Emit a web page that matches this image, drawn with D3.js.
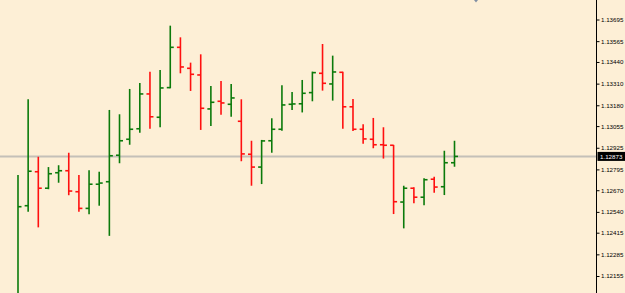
<!DOCTYPE html>
<html>
<head>
<meta charset="utf-8">
<script src="https://cdn.jsdelivr.net/npm/d3@7"></script>
<style>
html,body{margin:0;padding:0;background:#fdefd6;}
svg{display:block;}
</style>
</head>
<body>
<svg id="chart" width="625" height="293"></svg>
<script>
// OHLC data (oldest to newest)
const opens  = [1.12020,1.12577,1.12781,1.12682,1.12775,1.12787,1.12661,1.12561,1.12706,1.12721,
                1.12880,1.12976,1.13039,1.13248,1.13108,1.13286,1.13528,1.13402,1.13362,1.13158,
                1.13204,1.13186,1.13084,1.12886,1.12809,1.12967,1.13036,1.13186,1.13189,1.13256,
                1.13372,1.13308,1.13378,1.13171,1.13036,1.12976,1.12943,1.12940,1.12599,1.12682,
                1.12628,1.12736,1.12691,1.12835];
const highs  = [1.12761,1.13216,1.12871,1.12809,1.12820,1.12895,1.12761,1.12790,1.12781,1.13152,
                1.13126,1.13278,1.13314,1.13382,1.13392,1.13658,1.13588,1.13436,1.13486,1.13296,
                1.13326,1.13308,1.13216,1.12967,1.12972,1.13102,1.13300,1.13260,1.13332,1.13382,
                1.13548,1.13478,1.13382,1.13218,1.13066,1.13104,1.13048,1.12942,1.12697,1.12688,
                1.12742,1.12751,1.12907,1.12967];
const lows   = [1.12000,1.12541,1.12447,1.12676,1.12715,1.12640,1.12541,1.12525,1.12577,1.12396,
                1.12832,1.12943,1.13015,1.13039,1.13048,1.13282,1.13372,1.13266,1.13032,1.13056,
                1.13123,1.13111,1.12844,1.12697,1.12707,1.12895,1.13027,1.13152,1.13137,1.13204,
                1.13268,1.13208,1.13039,1.13026,1.12949,1.12922,1.12860,1.12527,1.12441,1.12592,
                1.12580,1.12655,1.12641,1.12811];
const closes = [1.12571,1.12784,1.12682,1.12769,1.12787,1.12665,1.12561,1.12706,1.12713,1.12877,
                1.12967,1.13036,1.13248,1.13111,1.13284,1.13528,1.13410,1.13366,1.13162,1.13198,
                1.13194,1.13224,1.12888,1.12809,1.12966,1.13036,1.13182,1.13188,1.13252,1.13376,
                1.13312,1.13380,1.13171,1.13036,1.12978,1.12943,1.12940,1.12601,1.12682,1.12628,
                1.12733,1.12689,1.12835,1.12873];
const tickValues = [1.13695,1.13565,1.13440,1.13310,1.13180,1.13055,1.12925,1.12795,1.12670,1.12540,1.12415,1.12285,1.12155];
const tickLabels = ["1.13695","1.13565","1.13440","1.13310","1.13180","1.13055","1.12925","1.12795","1.12670","1.12540","1.12415","1.12285","1.12155"];
const currentPrice = 1.12873;
const currentLabel = "1.12873";

const bars = opens.map((o,i)=>({i, o, h:highs[i], l:lows[i], c:closes[i]}));

const svg = d3.select("#chart");
const W = 625, H = 293, axisX = 596.5;

svg.append("rect").attr("width",W).attr("height",H).attr("fill","#fdefd6");

const x = d3.scaleLinear().domain([0, bars.length-1]).range([18, 454.5]);
const y = d3.scaleLinear().domain([1.12155, 1.13695]).range([276, 19.5]);

// current price line
svg.append("line")
  .attr("x1",0).attr("x2",axisX)
  .attr("y1",y(currentPrice)).attr("y2",y(currentPrice))
  .attr("stroke","#c4c0b8").attr("stroke-width",2);

const green = "#0b7a0b", red = "#ff1010";
const g = svg.append("g");
const bar = g.selectAll("g.bar").data(bars).enter().append("g")
  .attr("stroke", d => d.c >= d.o ? green : red)
  .attr("stroke-width",1.6);
bar.append("line")
  .attr("x1",d=>x(d.i)).attr("x2",d=>x(d.i))
  .attr("y1",d=>y(d.h)).attr("y2",d=>y(d.l));
bar.append("line")
  .attr("x1",d=>x(d.i)-3.5).attr("x2",d=>x(d.i))
  .attr("y1",d=>y(d.o)).attr("y2",d=>y(d.o));
bar.append("line")
  .attr("x1",d=>x(d.i)).attr("x2",d=>x(d.i)+3.5)
  .attr("y1",d=>y(d.c)).attr("y2",d=>y(d.c));

// right axis
const axis = d3.axisRight(y).tickValues(tickValues)
  .tickFormat((d,i)=>tickLabels[i]).tickSize(3).tickPadding(1.5);
const ag = svg.append("g").attr("transform",`translate(${axisX},0)`).call(axis);
ag.select(".domain").attr("d",`M0,0V${H}`).attr("stroke","#000").attr("stroke-width",1);
ag.selectAll(".tick line").attr("stroke","#000");
ag.selectAll(".tick text").attr("fill","#000")
  .style("font-family","'Liberation Sans', Arial, sans-serif").style("font-size","6.2px");

// current price label
const cy = y(currentPrice);
svg.append("rect").attr("x",axisX+1).attr("y",cy-4.5).attr("width",W-axisX).attr("height",9).attr("fill","#000");
svg.append("text").attr("x",axisX+3.5).attr("y",cy+2.2).text(currentLabel)
  .attr("fill","#fff").style("font-family","'Liberation Sans', Arial, sans-serif").style("font-size","6.2px");

// small marker at top
svg.append("path").attr("d","M474,0 L478,0 L476,2.5 Z").attr("fill","#7f8ea3");
</script>
</body>
</html>
